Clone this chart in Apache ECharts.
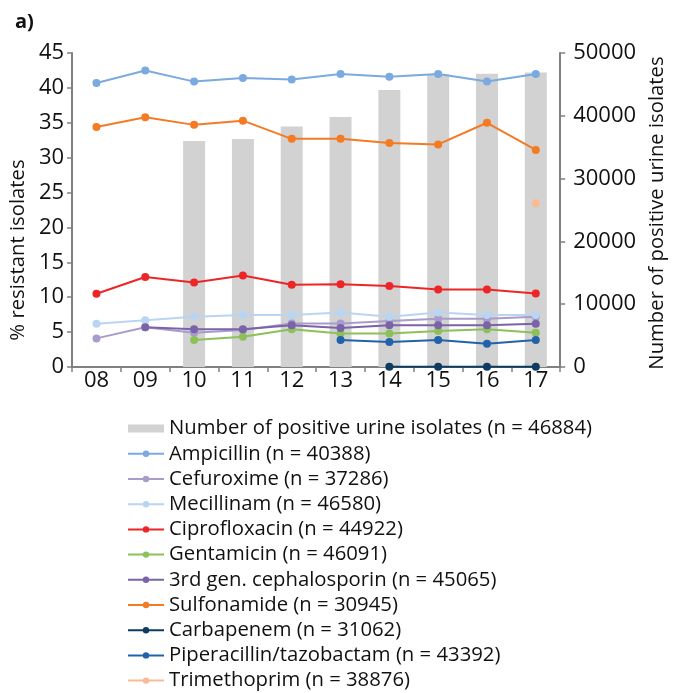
<!DOCTYPE html>
<html>
<head>
<meta charset="utf-8">
<script src="https://cdn.jsdelivr.net/npm/echarts@6/dist/echarts.min.js"></script>
<style>
html,body{margin:0;padding:0;background:#fff;}
#chart{width:675px;height:693px;}
</style>
</head>
<body>
<div id="chart"></div>
<script>
const years = ['08','09','10','11','12','13','14','15','16','17'];
const isolates = [null, null, 36000, 36300, 38300, 39800, 44100, 46600, 46700, 46884];
const ampicillin = [40.7, 42.5, 40.9, 41.4, 41.2, 42.0, 41.6, 42.0, 40.9, 42.0];
const cefuroxime = [4.1, 5.7, 4.9, 5.3, 6.25, 6.25, 6.6, 6.9, 6.9, 7.2];
const mecillinam = [6.2, 6.7, 7.2, 7.45, 7.45, 7.8, 7.2, 7.8, 7.45, 7.45];
const ciprofloxacin = [10.5, 12.9, 12.1, 13.1, 11.8, 11.85, 11.6, 11.1, 11.1, 10.55];
const gentamicin = [null, null, 3.87, 4.35, 5.4, 4.8, 4.8, 5.15, 5.4, 4.9];
const cephalosporin3 = [null, 5.7, 5.4, 5.4, 6.0, 5.6, 6.0, 6.0, 6.0, 6.2];
const sulfonamide = [34.4, 35.8, 34.7, 35.3, 32.7, 32.7, 32.1, 31.9, 35.0, 31.1];
const carbapenem = [null, null, null, null, null, null, 0.05, 0.05, 0.05, 0.05];
const piptazo = [null, null, null, null, null, 3.87, 3.58, 3.87, 3.34, 3.87];
const trimethoprim = [null, null, null, null, null, null, null, null, null, 23.45];
const leftTicks = {min: 0, max: 45, interval: 5};
const rightTicks = {min: 0, max: 50000, interval: 10000};

const barName = 'Number of positive urine isolates (n = 46884)';
const lines = [
  ['Ampicillin (n = 40388)', ampicillin, '#7aaadf'],
  ['Cefuroxime (n = 37286)', cefuroxime, '#a99bcb'],
  ['Mecillinam (n = 46580)', mecillinam, '#b9d5f1'],
  ['Ciprofloxacin (n = 44922)', ciprofloxacin, '#ee2526'],
  ['Gentamicin (n = 46091)', gentamicin, '#8cc15a'],
  ['3rd gen. cephalosporin (n = 45065)', cephalosporin3, '#7b63a9'],
  ['Sulfonamide (n = 30945)', sulfonamide, '#f47b24'],
  ['Carbapenem (n = 31062)', carbapenem, '#0e3b5f'],
  ['Piperacillin/tazobactam (n = 43392)', piptazo, '#2262aa'],
  ['Trimethoprim (n = 38876)', trimethoprim, '#f9bb95']
];

const FONT = '"Open Sans"';
const TEXT = '#111111';
const axisColor = '#808080';
const chart = echarts.init(document.getElementById('chart'), null, {renderer: 'canvas'});

const series = [{
  name: barName,
  type: 'bar',
  yAxisIndex: 1,
  data: isolates,
  barWidth: 22,
  itemStyle: {color: '#d1d2d1'},
  z: 1
}];
lines.forEach(([name, data, color]) => {
  series.push({
    name: name,
    type: 'line',
    yAxisIndex: 0,
    data: data,
    symbol: 'circle',
    symbolSize: 8,
    lineStyle: {width: 2, color: color},
    itemStyle: {color: color},
    z: 3
  });
});

const option = {
  animation: false,
  backgroundColor: '#ffffff',
  title: {
    text: 'a)', left: 10, top: 7,
    textStyle: {fontFamily: FONT, fontSize: 20, fontWeight: 'bold', color: TEXT}
  },
  grid: {left: 67, right: 106, top: 53, bottom: 326, containLabel: false},
  legend: {
    orient: 'vertical',
    left: 127, top: 418, padding: 0,
    itemWidth: 36, itemHeight: 8,
    itemGap: 4,
    textStyle: {fontFamily: FONT, fontSize: 20.3, lineHeight: 21.2, color: TEXT},
    data: [{name: barName, icon: 'rect'}].concat(lines.map(l => ({name: l[0]})))
  },
  xAxis: {
    type: 'category',
    data: years,
    boundaryGap: true,
    axisLine: {lineStyle: {color: axisColor, width: 2}},
    axisTick: {show: true, length: 5, lineStyle: {color: axisColor, width: 1.5}},
    axisLabel: {fontFamily: FONT, fontSize: 22, color: TEXT, margin: 3}
  },
  yAxis: [{
    type: 'value',
    min: leftTicks.min, max: leftTicks.max, interval: leftTicks.interval,
    name: '% resistant isolates',
    nameLocation: 'middle', nameRotate: 90, nameGap: 40,
    nameTextStyle: {fontFamily: FONT, fontSize: 20.3, color: TEXT, padding: [0, 80, 0, 0]},
    axisLine: {show: true, lineStyle: {color: axisColor, width: 2}},
    axisTick: {show: true, length: 5, lineStyle: {color: axisColor, width: 1.5}},
    splitLine: {show: false},
    axisLabel: {fontFamily: FONT, fontSize: 22, color: TEXT, margin: 8}
  }, {
    type: 'value',
    position: 'right',
    min: rightTicks.min, max: rightTicks.max, interval: rightTicks.interval,
    name: 'Number of positive urine isolates',
    nameLocation: 'middle', nameRotate: 90, nameGap: 83,
    nameTextStyle: {fontFamily: FONT, fontSize: 20.3, color: TEXT, padding: [0, 6, 0, 0]},
    axisLine: {show: true, lineStyle: {color: axisColor, width: 2}},
    axisTick: {show: true, length: 5, lineStyle: {color: axisColor, width: 1.5}},
    splitLine: {show: false},
    axisLabel: {fontFamily: FONT, fontSize: 22, color: TEXT, margin: 13, formatter: v => String(v)}
  }],
  series: series
};
chart.setOption(option);
</script>
</body>
</html>
